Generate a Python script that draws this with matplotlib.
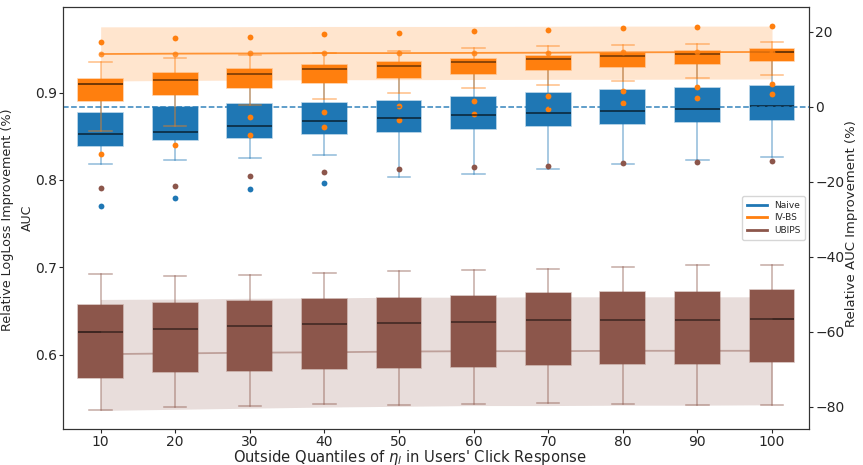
import matplotlib
matplotlib.use("Agg")
import matplotlib.pyplot as plt
import numpy as np
from matplotlib.lines import Line2D

quantiles = [10, 20, 30, 40, 50, 60, 70, 80, 90, 100]
series = ["Naive", "IV-BS", "UBIPS"]
colors = {"Naive": "#1f77b4", "IV-BS": "#ff7f0e", "UBIPS": "#8c564b"}

# AUC box statistics per quantile (left axis)
naive_lo = [0.818, 0.8229, 0.8255, 0.8283, 0.8038, 0.8069, 0.8126, 0.8187, 0.8233, 0.8267]
naive_q1 = [0.8386, 0.8455, 0.8485, 0.8523, 0.8546, 0.8584, 0.8615, 0.8638, 0.8664, 0.8687]
naive_med = [0.8523, 0.8553, 0.8615, 0.8679, 0.8714, 0.8741, 0.8764, 0.879, 0.8817, 0.8844]
naive_q3 = [0.8767, 0.8833, 0.8874, 0.8885, 0.8908, 0.8947, 0.8997, 0.9031, 0.9057, 0.908]
naive_hi = [0.905, 0.91, 0.915, 0.92, 0.925, 0.93, 0.935, 0.938, 0.94, 0.945]
naive_out = [[0.7706], [0.7794], [0.7893], [0.7969], [], [], [], [], [], []]

ivbs_lo = [0.8565, 0.8615, 0.8863, 0.8924, 0.8997, 0.905, 0.9092, 0.9131, 0.9165, 0.9199]
ivbs_q1 = [0.8908, 0.8974, 0.905, 0.9111, 0.9168, 0.9218, 0.926, 0.9298, 0.9332, 0.9363]
ivbs_med = [0.9103, 0.9145, 0.9214, 0.9268, 0.9309, 0.9348, 0.9383, 0.9417, 0.944, 0.9463]
ivbs_q3 = [0.9157, 0.9229, 0.9275, 0.9314, 0.9348, 0.9383, 0.942, 0.9458, 0.9481, 0.9504]
ivbs_hi = [0.9355, 0.9394, 0.9432, 0.946, 0.9478, 0.9508, 0.9531, 0.9543, 0.9561, 0.9577]
ivbs_out = [[0.958, 0.8298], [0.9623, 0.8397], [0.9641, 0.8718, 0.8515],
            [0.9669, 0.8782, 0.8603], [0.9684, 0.8844, 0.8687], [0.9707, 0.8908, 0.8756],
            [0.9722, 0.8966, 0.8813], [0.9741, 0.9019, 0.8885], [0.9753, 0.9062, 0.8943],
            [0.9764, 0.9096, 0.8989]]

ubips_lo = [0.5362, 0.5396, 0.5408, 0.5431, 0.5426, 0.5434, 0.5449, 0.5438, 0.5423, 0.5419]
ubips_q1 = [0.5735, 0.5804, 0.5816, 0.5835, 0.5846, 0.5861, 0.5877, 0.5889, 0.5896, 0.5912]
ubips_med = [0.6255, 0.629, 0.6328, 0.635, 0.6362, 0.6373, 0.6396, 0.6396, 0.64, 0.6404]
ubips_q3 = [0.6572, 0.6595, 0.6614, 0.6637, 0.6652, 0.6675, 0.6702, 0.6714, 0.6721, 0.6737]
ubips_hi = [0.6923, 0.6897, 0.6915, 0.6931, 0.6958, 0.6966, 0.6977, 0.7007, 0.7023, 0.703]
ubips_out = [[0.7912], [0.7935], [0.8046], [0.8088], [0.8123], [0.8152], [0.8164], [0.8195], [0.8206], [0.8221]]

# Relative AUC improvement (%) (right axis)
ivbs_imp = [14.05, 14.15, 14.2, 14.3, 14.3, 14.35, 14.4, 14.5, 14.55, 14.6]
ivbs_imp_lo = [6.85, 7.0, 7.1, 7.2, 7.2, 7.25, 7.3, 7.3, 7.35, 7.4]
ivbs_imp_hi = [21.3, 21.3, 21.35, 21.4, 21.4, 21.4, 21.45, 21.5, 21.5, 21.5]
naive_imp = 0.0
ubips_imp = [-66.0, -65.8, -65.6, -65.5, -65.3, -65.2, -65.2, -65.1, -65.1, -65.1]
ubips_imp_lo = [-81.0, -80.7, -80.4, -80.1, -79.9, -79.7, -79.7, -79.6, -79.6, -79.5]
ubips_imp_hi = [-51.4, -51.3, -51.1, -51.0, -50.8, -50.8, -50.7, -50.7, -50.7, -50.7]

plt.rcParams['font.family'] = ['DejaVu Sans']
plt.rcParams['text.color'] = '#262626'
plt.rcParams['axes.labelcolor'] = '#262626'
plt.rcParams['xtick.color'] = '#262626'
plt.rcParams['ytick.color'] = '#262626'
plt.rcParams['axes.edgecolor'] = '#333333'

fig = plt.figure(figsize=(8.63, 4.65), dpi=100)
ax = fig.add_axes([0.0734, 0.0768, 0.9378 - 0.0734, 0.9856 - 0.0768])

pos = np.arange(len(quantiles))


def stats(lo, q1, med, q3, hi, out):
    return [dict(whislo=lo[i], q1=q1[i], med=med[i], q3=q3[i], whishi=hi[i], fliers=out[i])
            for i in range(len(lo))]


def draw(st, c):
    ax.bxp(st, positions=pos, widths=0.6, patch_artist=True,
           boxprops=dict(facecolor=c, edgecolor=matplotlib.colors.to_rgba(c, 0.45), linewidth=1.1),
           whiskerprops=dict(color=c, alpha=0.5, linewidth=1.1),
           capprops=dict(color=c, alpha=0.5, linewidth=1.1),
           medianprops=dict(color=(0, 0, 0, 0.6), linewidth=1.3),
           flierprops=dict(marker='o', markerfacecolor=c, markeredgecolor='none', markersize=4.2))


draw(stats(naive_lo, naive_q1, naive_med, naive_q3, naive_hi, naive_out), colors["Naive"])
draw(stats(ivbs_lo, ivbs_q1, ivbs_med, ivbs_q3, ivbs_hi, ivbs_out), colors["IV-BS"])
draw(stats(ubips_lo, ubips_q1, ubips_med, ubips_q3, ubips_hi, ubips_out), colors["UBIPS"])

ax.set_xlim(-0.5, 9.5)
ax.set_ylim(0.5144, 0.9985)
ax.set_xticks(pos)
ax.set_xticklabels([str(q) for q in quantiles])
ax.set_yticks([0.6, 0.7, 0.8, 0.9])
ax.tick_params(labelsize=10, pad=1.8, length=2.6)

ax.set_ylabel("AUC", fontsize=9)
ax.yaxis.label.set_verticalalignment('center')
ax.yaxis.set_label_coords(-0.0487, 0.5)

ax.set_xlabel("Outside Quantiles of $\\eta_l$ in Users' Click Response", fontsize=10.6)
ax.xaxis.label.set_verticalalignment('center')
ax.xaxis.set_label_coords(0.465, -0.066)

ax2 = ax.twinx()
ax2.fill_between(pos, ivbs_imp_lo, ivbs_imp_hi, color=colors["IV-BS"], alpha=0.2, linewidth=0)
ax2.fill_between(pos, ubips_imp_lo, ubips_imp_hi, color=colors["UBIPS"], alpha=0.2, linewidth=0)
ax2.axhline(naive_imp, color=colors["Naive"], linestyle='--', linewidth=1.1, alpha=0.9)
ax2.plot(pos, ivbs_imp, color=colors["IV-BS"], linewidth=1.3, alpha=0.8,
         marker='o', markersize=4.2, markerfacecolor=colors["IV-BS"], markeredgecolor='none')
ax2.plot(pos, ubips_imp, color=colors["UBIPS"], linewidth=1.3, alpha=0.45)
ax2.set_ylim(-86.03, 26.67)
ax2.set_yticks([20, 0, -20, -40, -60, -80])
ax2.tick_params(labelsize=10, pad=1.8, length=2.6)
ax2.set_ylabel("Relative AUC Improvement (%)", fontsize=9.5)
ax2.yaxis.label.set_verticalalignment('center')
ax2.yaxis.set_label_coords(1.056, 0.488)

handles = [Line2D([0], [0], color=colors[s], linewidth=2) for s in series]
ax2.legend(handles, series, loc='center right', fontsize=6.5, handlelength=2.2,
           borderpad=0.5, labelspacing=0.4)

fig.text(7.5 / 863, 1 - 220 / 465, "Relative LogLoss Improvement (%)", rotation=90,
         va='center', ha='center', fontsize=9.2)

fig.savefig("out.png", dpi=100)
